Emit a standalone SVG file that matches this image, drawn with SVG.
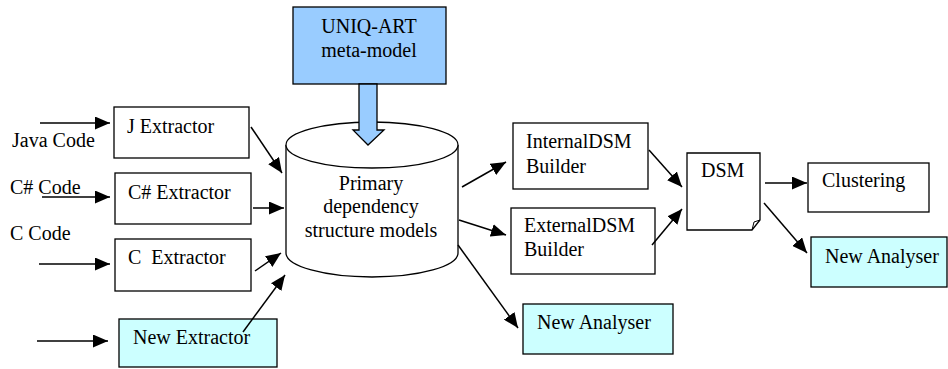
<svg xmlns="http://www.w3.org/2000/svg" width="948" height="369" viewBox="0 0 948 369">
<style>
text{font-family:'Liberation Serif','Times New Roman',Tinos,'Nimbus Roman','DejaVu Serif',serif;font-size:20px;fill:#000}
.box{fill:#fff;stroke:#000;stroke-width:1.3}
.new{fill:#ccffff;stroke:#000;stroke-width:1.3}
.meta{fill:#99ccff;stroke:#000;stroke-width:1.3}
.c{stroke:#000;stroke-width:1.5;fill:none;marker-end:url(#ah)}
.mid{text-anchor:middle}
</style>
<defs>
<marker id="ah" markerUnits="userSpaceOnUse" markerWidth="15" markerHeight="13" refX="15" refY="6.5" orient="auto">
<path d="M0,0 L15,6.5 L0,13 Z" fill="#000"/>
</marker>
</defs>
<g font-family="Liberation Serif, Times New Roman, serif">
<g id="java-label"><text x="12" y="147">Java Code</text></g>
<g id="csharp-label"><text x="10" y="194">C# Code</text></g>
<g id="c-label"><text x="10" y="240">C Code</text></g>
<g id="j-extractor"><rect class="box" x="114" y="107" width="135" height="51"/><text x="127" y="133">J Extractor</text></g>
<g id="cs-extractor"><rect class="box" x="115" y="173" width="136" height="51"/><text x="128" y="199">C# Extractor</text></g>
<g id="c-extractor"><rect class="box" x="115" y="239" width="136" height="52"/><text x="128" y="264" xml:space="preserve">C  Extractor</text></g>
<g id="new-extractor"><rect class="new" x="119" y="319" width="158" height="48"/><text x="133" y="344">New Extractor</text></g>
<g id="primary-models">
<path class="box" d="M286,145 V253 A86,24 0 0 0 458,253 V145"/>
<ellipse class="box" cx="372" cy="145" rx="86" ry="23"/>
<text class="mid" x="371" y="190">Primary</text>
<text class="mid" x="371" y="213">dependency</text>
<text class="mid" x="371" y="237">structure models</text>
</g>
<g id="uniq-art">
<rect class="meta" x="293" y="7" width="153" height="77"/>
<text class="mid" x="369" y="33">UNIQ-ART</text>
<text class="mid" x="369" y="57">meta-model</text>
<polygon class="meta" points="359,84 377,84 377,130 384,130 368,145 353,130 359,130"/>
</g>
<g id="internal-dsm"><rect class="box" x="513" y="123" width="135" height="66"/><text x="526" y="148">InternalDSM</text><text x="526" y="173">Builder</text></g>
<g id="external-dsm"><rect class="box" x="511" y="208" width="144" height="66"/><text x="524" y="232">ExternalDSM</text><text x="524" y="256">Builder</text></g>
<g id="new-analyser-1"><rect class="new" x="523" y="304" width="150" height="50"/><text x="537" y="329">New Analyser</text></g>
<g id="dsm">
<path class="box" d="M687,153 H760 V220 L752,230 H687 Z"/>
<path d="M752,230 L754,222 L760,220" fill="none" stroke="#000" stroke-width="1"/>
<text x="701" y="177">DSM</text>
</g>
<g id="clustering"><rect class="box" x="808" y="163" width="121" height="49"/><text x="822" y="187">Clustering</text></g>
<g id="new-analyser-2"><rect class="new" x="811" y="237" width="136" height="50"/><text x="825" y="263">New Analyser</text></g>
</g>
<g id="connectors">
<line class="c" x1="40" y1="123" x2="110" y2="123"/>
<line class="c" x1="42" y1="197" x2="110" y2="197"/>
<line class="c" x1="39" y1="264" x2="110" y2="264"/>
<line class="c" x1="37" y1="341" x2="108" y2="341"/>
<line class="c" x1="251" y1="127" x2="282" y2="173"/>
<line class="c" x1="253" y1="208" x2="284" y2="208"/>
<line class="c" x1="255" y1="271" x2="281" y2="253"/>
<line class="c" x1="243" y1="332" x2="285" y2="275"/>
<line class="c" x1="462" y1="187" x2="506" y2="162"/>
<line class="c" x1="459" y1="220" x2="506" y2="235"/>
<line class="c" x1="458" y1="245" x2="518" y2="328"/>
<line class="c" x1="649" y1="150" x2="682" y2="187"/>
<line class="c" x1="652" y1="245" x2="682" y2="209"/>
<line class="c" x1="765" y1="183" x2="807" y2="183"/>
<line class="c" x1="764" y1="203" x2="807" y2="253"/>
</g>
</svg>
